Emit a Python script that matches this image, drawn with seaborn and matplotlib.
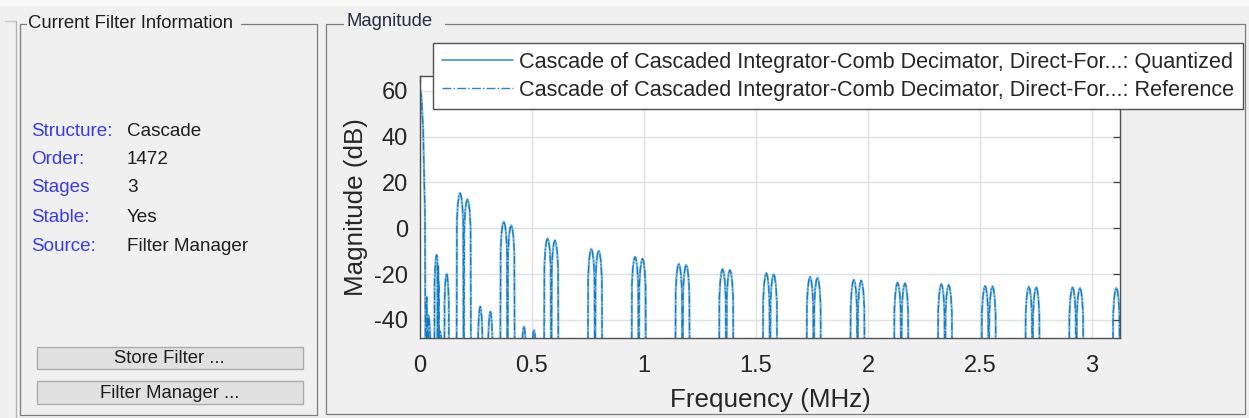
import matplotlib
matplotlib.use("Agg")
import matplotlib.pyplot as plt
from matplotlib.lines import Line2D
from matplotlib.patches import Rectangle
import numpy as np
import pandas as pd
import seaborn as sns

# ---------------- data ----------------
info_labels = ["Structure:", "Order:", "Stages", "Stable:", "Source:"]
info_values = ["Cascade", "1472", "3", "Yes", "Filter Manager"]
button_labels = ["Store Filter ...", "Filter Manager ..."]

legend_labels = [
    "Cascade of Cascaded Integrator-Comb Decimator, Direct-For...: Quantized",
    "Cascade of Cascaded Integrator-Comb Decimator, Direct-For...: Reference",
]
x_ticks = [0, 0.5, 1, 1.5, 2, 2.5, 3]
x_tick_labels = ["0", "0.5", "1", "1.5", "2", "2.5", "3"]
y_ticks = [-40, -20, 0, 20, 40, 60]
y_tick_labels = ["-40", "-20", "0", "20", "40", "60"]

# main lobe near DC (MHz, dB)
main_lobe_mhz = [0.0, 0.006, 0.014, 0.022, 0.030, 0.034]
main_lobe_db = [60.5, 58.0, 43.0, 6.7, -30.0, -90.0]

# double-humped lobe pairs (centre frequency, left / right peak in dB)
pair_center_mhz = [0.1953, 0.3906, 0.5859, 0.7813, 0.9766, 1.1719, 1.3672, 1.5625,
                   1.7578, 1.9531, 2.1484, 2.3438, 2.5391, 2.7344, 2.9297, 3.1250]
pair_left_db = [15.3, 2.9, -4.4, -9.0, -12.5, -15.5, -17.9, -19.6,
                -21.2, -22.5, -23.7, -24.4, -25.2, -25.5, -25.7, -26.0]
pair_right_db = [12.6, 1.3, -5.3, -9.8, -13.3, -16.0, -18.2, -20.1,
                 -21.5, -22.8, -24.0, -24.7, -25.4, -25.7, -26.0, -26.3]

# small single lobes (peak frequency, peak dB)
minor_peak_mhz = [0.037, 0.0745, 0.0892, 0.119, 0.269, 0.314, 0.464, 0.509]
minor_peak_db = [-38.0, -11.6, -44.7, -19.9, -34.2, -36.4, -42.9, -44.4]

# lobe shape: offset from peak (in half-widths) and drop (dB)
lobe_offsets = [-1.0, -0.85, -0.6, -0.3, 0.0, 0.3, 0.6, 0.85, 1.0]
lobe_drops = [None, -12.0, -5.0, -1.2, 0.0, -1.2, -5.0, -12.0, None]
pair_peak_offset = 0.0165
pair_half_width = 0.0165
minor_half_width = 0.011
null_db = -90.0

# ---------------- assemble curve points ----------------
pts = list(zip(main_lobe_mhz, main_lobe_db))


def add_lobe(peak_f, peak_db, hw):
    for o, d in zip(lobe_offsets, lobe_drops):
        pts.append((peak_f + o * hw, null_db if d is None else peak_db + d))


for c, l, r in zip(pair_center_mhz, pair_left_db, pair_right_db):
    add_lobe(c - pair_peak_offset, l, pair_half_width)
    add_lobe(c + pair_peak_offset, r, pair_half_width)
for f, d in zip(minor_peak_mhz, minor_peak_db):
    add_lobe(f, d, minor_half_width)

pts.sort(key=lambda p: p[0])
df = pd.DataFrame(pts, columns=["freq", "mag"])

# ---------------- figure ----------------
sns.set_theme(style="white")
plt.rcParams["font.family"] = ["Liberation Sans", "DejaVu Sans"]

W, H = 1249, 418
fig = plt.figure(figsize=(W / 100, H / 100), dpi=100, facecolor="#f0f0f0")


def fx(px):
    return px / W


def fy(py):
    return 1 - py / H


def hline(x0, x1, y, color="#7d7d7d", lw=0.9):
    fig.add_artist(Line2D([fx(x0), fx(x1)], [fy(y), fy(y)], transform=fig.transFigure,
                          color=color, lw=lw))


def vline(x, y0, y1, color="#7d7d7d", lw=0.9):
    fig.add_artist(Line2D([fx(x), fx(x)], [fy(y0), fy(y1)], transform=fig.transFigure,
                          color=color, lw=lw))


# top light strip
fig.add_artist(Rectangle((0, fy(6)), 1, 6 / H, transform=fig.transFigure,
                         facecolor="#f9f9f9", edgecolor="none"))

# outer faint frame on the far left
hline(5, 16, 21, color="#c4c4c4")
vline(16, 21, 418, color="#b4b4b4")

# left panel frame
hline(19.5, 26, 23.5)
hline(241, 317, 23.5)
vline(19.5, 23.5, 414.5)
vline(317, 23.5, 414.5)
hline(19.5, 317, 414.5)
fig.text(fx(28), fy(24), "Current Filter Information", fontsize=13.3, color="#1e1e1e",
         ha="left", va="center")

label_y = [131, 159.5, 188, 217, 246.5]
for lab, val, y in zip(info_labels, info_values, label_y):
    fig.text(fx(31), fy(y), lab, fontsize=13.6, color="#3a3aee", ha="left", va="center")
    fig.text(fx(127), fy(y), val, fontsize=13.6, color="#1e1e1e", ha="left", va="center")

for lab, (y0, y1) in zip(button_labels, [(346.7, 369.3), (381, 404.3)]):
    fig.add_artist(Rectangle((fx(37), fy(y1)), (302.7 - 37) / W, (y1 - y0) / H,
                             transform=fig.transFigure, facecolor="#e1e1e1",
                             edgecolor="#adadad", lw=1.0))
    fig.text(fx(169.8), fy((y0 + y1) / 2 + 0.5), lab, fontsize=13.3, color="#1e1e1e",
             ha="center", va="center")

# right panel frame
hline(326, 343, 23.5)
hline(445, 1245, 23.5)
vline(326, 23.5, 413.5)
vline(1245, 23.5, 413.5)
hline(326, 1245, 413.5)
fig.text(fx(347), fy(21.5), "Magnitude", fontsize=13.3, color="#2a2a44", ha="left", va="center")

# ---------------- plot ----------------
ax = fig.add_axes([fx(420), fy(338), 700 / W, 262 / H])
ax.set_facecolor("white")

blue = "#0072BD"
sns.lineplot(data=df, x="freq", y="mag", estimator=None, sort=False, ax=ax,
             color=blue, lw=1.6, alpha=0.5, label=legend_labels[0])
sns.lineplot(data=df, x="freq", y="mag", estimator=None, sort=False, ax=ax,
             color=blue, lw=0.9, linestyle="-.", alpha=0.85, label=legend_labels[1])

ax.set_xlim(0, 3.125)
ax.set_ylim(-47.9, 66.4)
ax.set_xticks(x_ticks)
ax.set_xticklabels(x_tick_labels)
ax.set_yticks(y_ticks)
ax.set_yticklabels(y_tick_labels)
ax.grid(True, color="#e0e0e0", lw=1.0)
ax.set_axisbelow(True)
for s in ax.spines.values():
    s.set_color("#505050")
    s.set_linewidth(1.0)
ax.tick_params(direction="in", length=5, width=0.9, color="#404040",
               top=True, right=True, labelsize=17, labelcolor="#262626")
ax.tick_params(axis="x", pad=12)
ax.tick_params(axis="y", pad=8.5)

ax.set_xlabel("Frequency (MHz)", fontsize=18.7, color="#262626")
ax.set_ylabel("Magnitude (dB)", fontsize=18.7, color="#262626")
ax.xaxis.set_label_coords(0.5, (338 - 388) / 262)
ax.yaxis.set_label_coords((367.5 - 420) / 700, 0.5)

# legend with solid / dash-dot samples
handles = [Line2D([0], [0], color=blue, lw=1.2, alpha=0.75),
           Line2D([0], [0], color=blue, lw=1.0, linestyle="-.", alpha=0.85)]
leg = ax.legend(handles, legend_labels, loc="upper left",
                bbox_to_anchor=(fx(433), fy(43)), bbox_transform=fig.transFigure,
                fontsize=15.6, frameon=True, fancybox=False, framealpha=1,
                edgecolor="#505050", borderaxespad=0, borderpad=0.4,
                labelspacing=0.33, handlelength=3.3, handletextpad=0.26)
leg.get_frame().set_linewidth(1.0)
for t in leg.get_texts():
    t.set_color("#262626")

fig.savefig("out.png", dpi=100, facecolor=fig.get_facecolor())
